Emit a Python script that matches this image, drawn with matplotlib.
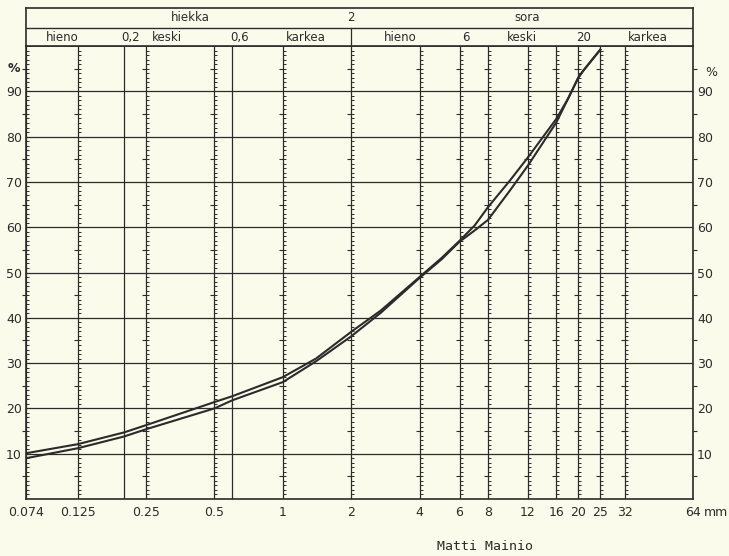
import numpy as np
import matplotlib
matplotlib.use("Agg")
import matplotlib.pyplot as plt

# raekoko (mm) ja läpäisy-%
sizes = [0.074, 0.125, 0.2, 0.25, 0.5, 0.6, 1, 1.4, 2, 2.7, 4, 5, 6, 7, 8, 10, 12, 16, 18, 20, 21, 25]
curve_a = [10.1, 12.1, 14.7, 16.3, 21.4, 22.7, 26.9, 31.0, 36.9, 41.6, 49.0, 53.2, 57.0, 60.4, 64.4, 70.3, 75.4, 83.9, 88.3, 93.0, 94.5, 99.2]
curve_b = [9.0, 11.2, 13.8, 15.4, 20.0, 21.8, 25.8, 30.4, 35.9, 41.1, 48.8, 52.9, 56.8, 59.3, 61.6, 68.1, 73.6, 83.1, 88.3, 93.0, 94.5, 99.2]

xticks = [0.074, 0.125, 0.25, 0.5, 1, 2, 4, 6, 8, 12, 16, 20, 25, 32, 64]
xticklabels = ["0.074", "0.125", "0.25", "0.5", "1", "2", "4", "6", "8", "12", "16", "20", "25", "32", "64"]
boundaries = [0.2, 0.6]
scale_lines = [0.074, 0.125, 0.25, 0.5, 1, 2, 4, 6, 8, 12, 16, 20, 25, 32]
yticks = [10, 20, 30, 40, 50, 60, 70, 80, 90]

row1 = [("hiekka", 0.39), ("2", 2.0), ("sora", 11.9)]
row2 = [("hieno", 0.1066), ("0,2", 0.2146), ("keski", 0.309), ("0,6", 0.648),
        ("karkea", 1.266), ("hieno", 3.28), ("6", 6.41), ("keski", 11.3),
        ("20", 21.2), ("karkea", 40.6)]

bg = "#fbfbec"
ink = "#2b2b2b"

plt.rcParams["font.family"] = ["DejaVu Sans"]
fig = plt.figure(figsize=(7.29, 5.56), dpi=100, facecolor=bg)

W, H = 729.0, 556.0
left, right, top, bottom = 26, 693, 46, 499
ax = fig.add_axes([left / W, 1 - bottom / H, (right - left) / W, (bottom - top) / H])
ax.set_facecolor(bg)
ax.set_xscale("log")
ax.set_xlim(0.074, 64)
ax.set_ylim(0, 100)

ax.set_xticks(xticks)
ax.set_xticklabels(xticklabels)
ax.set_xticks(boundaries, minor=True)
ax.set_xticklabels([], minor=True)
ax.set_yticks(yticks)
ax.tick_params(axis="both", which="both", length=0, colors=ink, labelsize=9)
ax.tick_params(axis="x", pad=5)
ax.tick_params(axis="y", labelright=True, pad=3)
ax.grid(True, which="both", axis="x", color=ink, lw=0.9)
ax.grid(True, which="major", axis="y", color=ink, lw=0.9)
for sp in ax.spines.values():
    sp.set_color(ink)
    sp.set_linewidth(1.2)

# asteikkoviivojen pienet jaot
minor_pct = [p for p in range(1, 100) if p % 5 != 0]
five_pct = [p for p in range(5, 100, 10)]
for x in scale_lines:
    ax.plot([x] * len(minor_pct), minor_pct, ls="none", marker=1, ms=2.4, mew=0.7, color=ink, clip_on=False)
    ax.plot([x] * len(five_pct), five_pct, ls="none", marker=0, ms=3.2, mew=0.8, color=ink, clip_on=False)
    ax.plot([x] * len(five_pct), five_pct, ls="none", marker=1, ms=2.4, mew=0.7, color=ink, clip_on=False)
ax.plot([64] * len(five_pct), five_pct, ls="none", marker=1, ms=3.2, mew=0.8, color=ink, clip_on=False)

ax.plot(sizes, curve_a, color=ink, lw=1.5, solid_joinstyle="round")
ax.plot(sizes, curve_b, color=ink, lw=1.5, solid_joinstyle="round")

# otsikkorivit
hax = fig.add_axes([left / W, 1 - top / H, (right - left) / W, (top - 8) / H], sharex=ax)
hax.set_facecolor(bg)
hax.set_ylim(0, 1)
hax.tick_params(axis="both", which="both", length=0, labelbottom=False, labelleft=False)
hax.grid(False)
for sp in hax.spines.values():
    sp.set_color(ink)
    sp.set_linewidth(1.2)
hax.axhline(0.47, color=ink, lw=1.0)
hax.plot([2, 2], [0, 0.47], color=ink, lw=0.9)
for txt, x in row1:
    hax.text(x, 0.74, txt, ha="center", va="center", fontsize=8.5, color=ink)
for txt, x in row2:
    hax.text(x, 0.23, txt, ha="center", va="center", fontsize=8.5, color=ink)

fig.text(14 / W, 1 - 68 / H, "%", ha="center", va="center", fontsize=9, color=ink, fontweight="bold")
fig.text(711 / W, 1 - 73 / H, "%", ha="center", va="center", fontsize=9, color=ink)
fig.text(716 / W, 1 - 513 / H, "mm", ha="center", va="center", fontsize=9, color=ink)
fig.text(485 / W, 1 - 547 / H, "Matti Mainio", ha="center", va="center", fontsize=9.5,
         family="DejaVu Sans Mono", color=ink)

fig.savefig("out.png", dpi=100, facecolor=bg)
